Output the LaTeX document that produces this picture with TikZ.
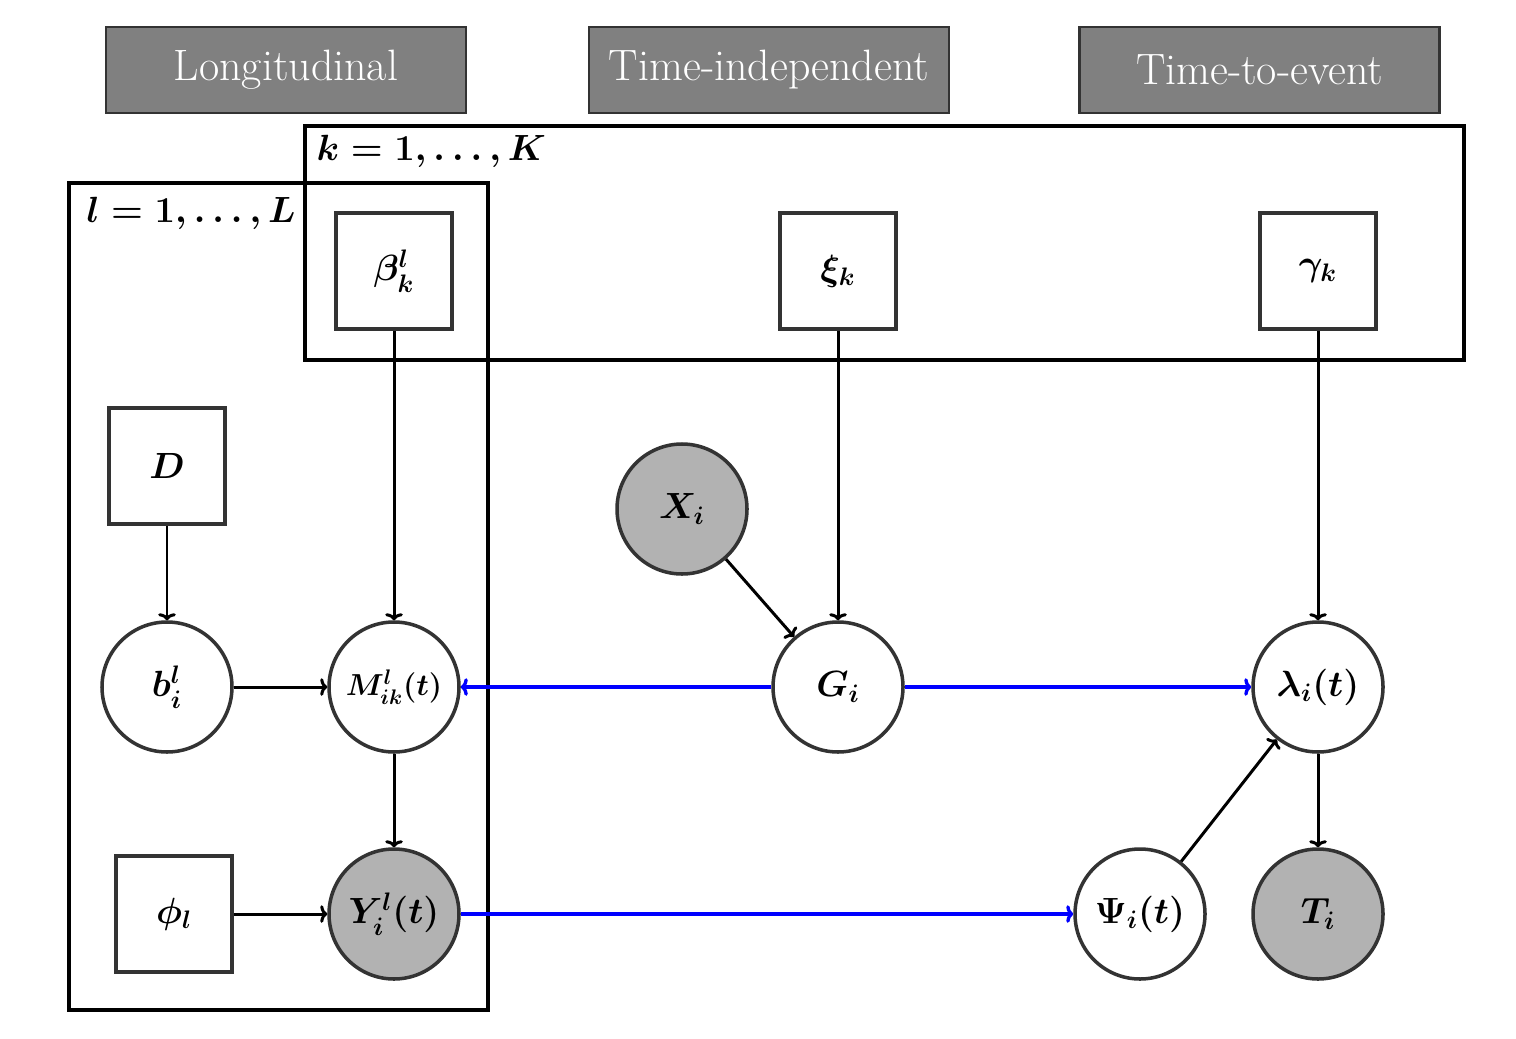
\documentclass[tikz,border=0pt]{standalone}
\usepackage{amsmath}
\usepackage{bm}
\usetikzlibrary{arrows.meta}
\begin{document}
\begin{tikzpicture}[
  font=\fontsize{22}{26}\selectfont\boldmath,
  header/.style={draw=black!80, fill=black!50, line width=1.2pt, minimum width=7.2cm, minimum height=1.72cm, text=white, inner sep=0pt, font=\fontsize{25}{30}\selectfont},
  plate/.style={draw=black, line width=2.1pt, inner sep=0pt},
  param/.style={draw=black!80, line width=2pt, fill=white, minimum size=2.32cm, inner sep=0pt},
  latent/.style={circle, draw=black!80, line width=2pt, fill=white, minimum size=2.6cm, inner sep=0pt},
  obs/.style={latent, fill=black!30},
  edge/.style={draw=black, line width=1.7pt, -{To[length=4pt,width=10pt]}},
  bedge/.style={draw=blue, line width=1.9pt, -{To[length=4pt,width=10pt]}},
  platelabel/.style={anchor=north west, inner sep=0pt, font=\fontsize{21}{25}\selectfont\boldmath}
]
\useasboundingbox (0,0) rectangle (30.32,-20.76);
% headers
\node[header] (hL) at (5.72,-1.4) {Longitudinal};
\node[header] (hI) at (15.38,-1.4) {Time-independent};
\node[header] (hT) at (25.19,-1.4) {Time-to-event};
% plates
\node[plate, minimum width=23.18cm, minimum height=4.68cm] (Kp) at (17.69,-4.86) {};
\node[plate, minimum width=8.38cm, minimum height=16.54cm] (Lp) at (5.57,-11.93) {};
\node[platelabel] (Kl) at ([xshift=0.26cm,yshift=-0.22cm]Kp.north west) {$k=1,\ldots,K$};
\node[platelabel] (Ll) at ([xshift=0.38cm,yshift=-0.32cm]Lp.north west) {$l=1,\ldots,L$};
% parameter boxes
\node[param] (beta) at (7.88,-5.42) {$\beta^l_k$};
\node[param] (xi) at (16.76,-5.42) {$\xi_k$};
\node[param] (gam) at (26.36,-5.42) {$\gamma_k$};
\node[param] (D) at (3.34,-9.32) {$D$};
\node[param] (phi) at (3.48,-18.28) {$\phi_l$};
% variables
\node[latent] (b) at (3.34,-13.74) {$b^l_i$};
\node[latent, font=\fontsize{17}{20}\selectfont\boldmath] (M) at (7.88,-13.74) {$M^l_{ik}(t)$};
\node[latent] (G) at (16.76,-13.74) {$G_i$};
\node[latent] (lam) at (26.36,-13.74) {$\lambda_i(t)$};
\node[obs] (X) at (13.64,-10.18) {$X_i$};
\node[obs] (Y) at (7.88,-18.28) {$Y^l_i(t)$};
\node[latent] (Psi) at (22.8,-18.28) {$\Psi_i(t)$};
\node[obs] (T) at (26.36,-18.28) {$T_i$};
% edges
\draw[edge] (beta) -- (M);
\draw[edge] (xi) -- (G);
\draw[edge] (gam) -- (lam);
\draw[edge] (D) -- (b);
\draw[edge] (b) -- (M);
\draw[edge] (M) -- (Y);
\draw[edge] (phi) -- (Y);
\draw[edge] (X) -- (G);
\draw[edge] (Psi) -- (lam);
\draw[edge] (lam) -- (T);
\draw[bedge] (G) -- (M);
\draw[bedge] (G) -- (lam);
\draw[bedge] (Y) -- (Psi);
\end{tikzpicture}
\end{document}
